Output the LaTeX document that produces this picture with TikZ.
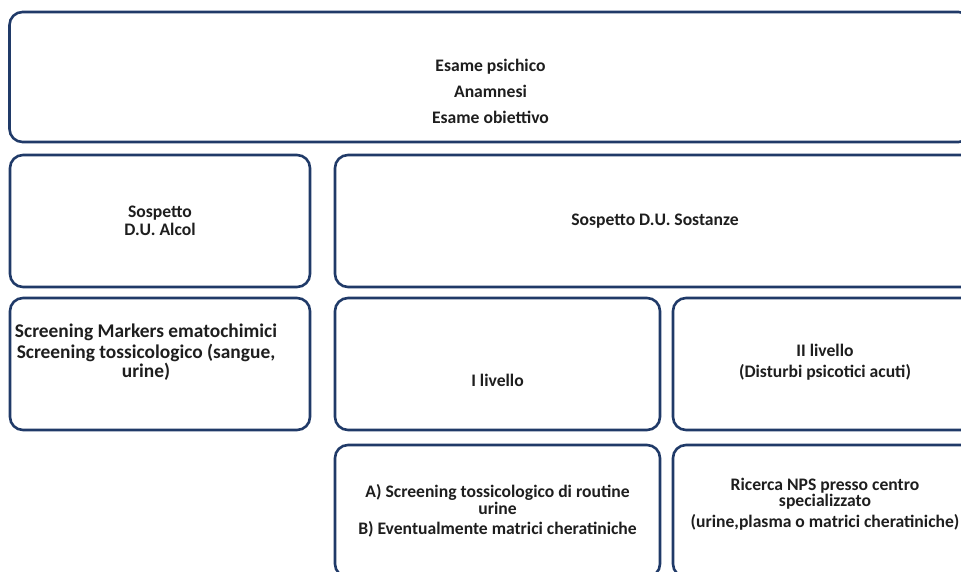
\documentclass[tikz,border=0pt]{standalone}
\usepackage{fontspec}
\setmainfont{Carlito}
\usepackage{tikz}
\usetikzlibrary{positioning}
\definecolor{boxblue}{RGB}{32,58,104}
\definecolor{textgray}{RGB}{30,30,30}
\newcommand{\boxfont}{\bfseries\fontsize{17.6}{16.5}\selectfont}
\newcommand{\bigboxfont}{\bfseries\fontsize{19.4}{17.5}\selectfont}
\tikzset{
  panel/.style={rectangle, draw=boxblue, line width=2.6pt, rounded corners=13pt, fill=white,
                outer sep=0pt, inner sep=0pt, minimum height=132pt, anchor=north west},
  txt/.style={font=\boxfont, align=center, text=textgray, inner sep=0pt},
}

\begin{document}
\begin{tikzpicture}[x=1pt, y=-1pt]
  \useasboundingbox (0,0) rectangle (961,571);
  \clip (0,0) rectangle (961,571);

  % boxes
  \node[panel, minimum width=962pt, minimum height=130pt] (esame) at (9.5,12) {};
  \node[panel, minimum width=300pt] (alcol) [below right=13pt and 0.5pt of esame.south west] {};
  \node[panel, minimum width=640pt] (sostanze) [below right=0pt and 25pt of alcol.north east] {};
  \node[panel, minimum width=300pt] (screen) [below right=11pt and 0pt of alcol.south west] {};
  \node[panel, minimum width=325pt] (liv1) [below right=11pt and 0pt of sostanze.south west] {};
  \node[panel, minimum width=304pt] (liv2) [below right=0pt and 13pt of liv1.north east] {};
  \node[panel, minimum width=325pt] (routine) [below right=15pt and 0pt of liv1.south west] {};
  \node[panel, minimum width=304pt] (nps) [below right=15pt and 0pt of liv2.south west] {};

  % texts
  \node[txt] (esameT) at ([yshift=-14pt]esame.center) {Esame psichico\\[9.5pt]Anamnesi\\[9.5pt]Esame obiettivo};
  \node[txt] (alcolT) at (alcol.center) {Sospetto\\[2pt]D.U. Alcol};
  \node[txt] (sostanzeT) at (sostanze.center) {Sospetto D.U. Sostanze};
  \node[txt, font=\bigboxfont] (screenT) at ([xshift=-14pt, yshift=12pt]screen.center) {Screening Markers ematochimici\\[2.5pt]Screening tossicologico (sangue,\\urine)};
  \node[txt] (liv1T) at ([yshift=-16pt]liv1.center) {I livello};
  \node[txt] (liv2T) at ([yshift=2pt]liv2.center) {II livello\\[4pt](Disturbi psicotici acuti)};
  \node[txt] (routineT) at (routine.center) {A) Screening tossicologico di routine\\urine\\[3.5pt]B) Eventualmente matrici cheratiniche};
  \node[txt] (npsT) at ([yshift=7pt]nps.center) {Ricerca NPS presso centro\\specializzato\\[4pt](urine,plasma o matrici cheratiniche)};
\end{tikzpicture}
\end{document}
